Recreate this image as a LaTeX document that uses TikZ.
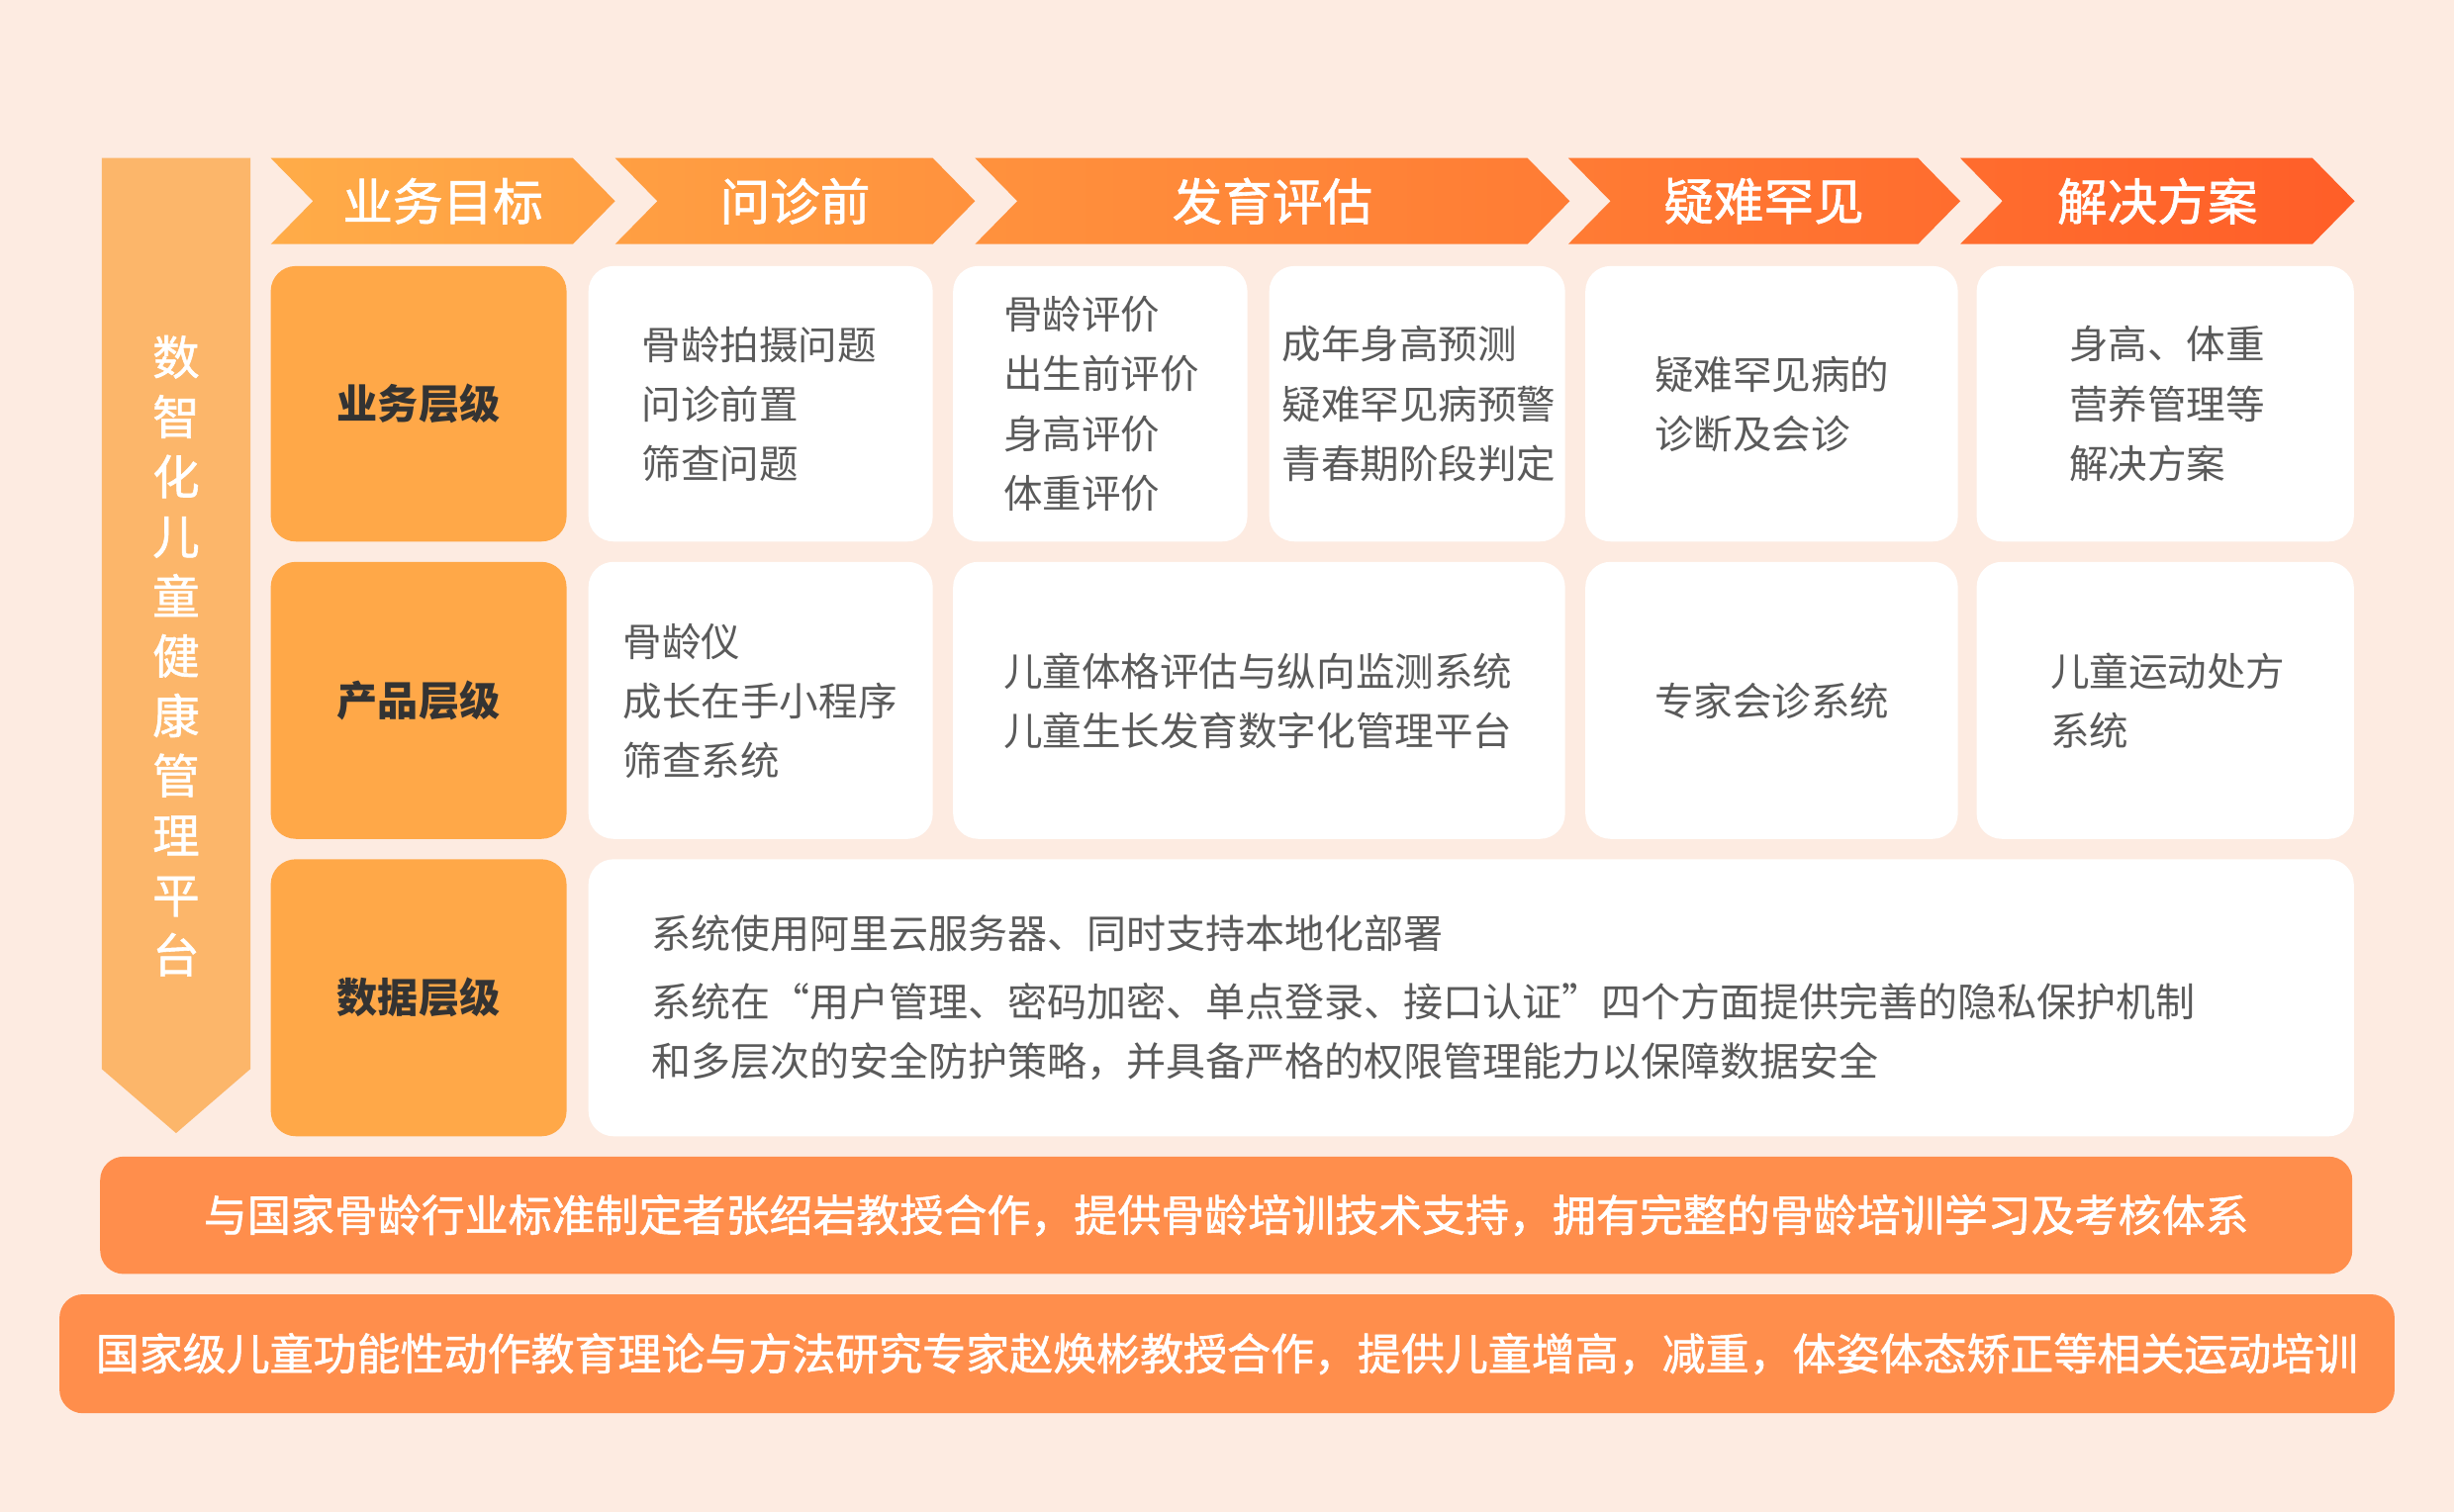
\documentclass[tikz,border=0pt]{standalone}
\usepackage{fontspec}
\setmainfont{Noto Sans CJK SC}
\newfontfamily\medfont{Noto Sans CJK SC}[FakeBold=1.2]
\definecolor{bgc}{RGB}{253,235,225}
\definecolor{bandc}{RGB}{252,182,106}
\definecolor{labelc}{RGB}{255,168,72}
\definecolor{barc}{RGB}{255,142,76}
\definecolor{chevL}{RGB}{255,172,72}
\definecolor{chevR}{RGB}{255,94,40}
\definecolor{bodyc}{RGB}{90,90,90}
\definecolor{labtc}{RGB}{51,51,51}
\begin{document}
\begin{tikzpicture}[x=1pt,y=-1pt,
  lblbox/.style={fill=labelc, rounded corners=16pt, inner sep=0pt, minimum width=189pt, text=labtc, font=\fontsize{26}{30}\selectfont\bfseries},
  whitebox/.style={fill=white, rounded corners=16pt, inner sep=0pt},
  bodytxt/.style={anchor=west, inner sep=0pt, align=left, text=bodyc, font=\fontsize{25}{38}\selectfont},
  headtxt/.style={inner sep=0pt, text=white, font=\medfont\fontsize{32}{36}\selectfont},
  barbox/.style={fill=barc, rounded corners=15pt, inner sep=0pt, text=white, font=\medfont\fontsize{27.8}{30}\selectfont}
]
\fill[bgc] (0,0) rectangle (1568,966);
\useasboundingbox (0,0) rectangle (1568,966);

% left vertical band
\fill[bandc] (65,101) -- (160,101) -- (160,683) -- (112.5,724) -- (65,683) -- cycle;
\node[inner sep=0pt, align=center, text=white, font=\medfont\fontsize{30}{38.2}\selectfont] (band) at (112.5,419)
  {数\\智\\化\\儿\\童\\健\\康\\管\\理\\平\\台};

% header chevrons (one shaded path)
\shade[left color=chevL, right color=chevR]
  (173,101) -- (366,101) -- (393,128.5) -- (366,156) -- (173,156) -- (200,128.5) -- cycle
  (393,101) -- (596,101) -- (623,128.5) -- (596,156) -- (393,156) -- (420,128.5) -- cycle
  (623,101) -- (976,101) -- (1003,128.5) -- (976,156) -- (623,156) -- (650,128.5) -- cycle
  (1002,101) -- (1225.5,101) -- (1252.5,128.5) -- (1225.5,156) -- (1002,156) -- (1029,128.5) -- cycle
  (1252.5,101) -- (1477.5,101) -- (1504.5,128.5) -- (1477.5,156) -- (1252.5,156) -- (1279.5,128.5) -- cycle;
\node[headtxt] (h1) at (283,128.5) {业务目标};
\node[headtxt] (h2) at (508,128.5) {问诊前};
\node[headtxt] (h3) at (813,128.5) {发育评估};
\node[headtxt] (h4) at (1127,128.5) {疑难罕见};
\node[headtxt] (h5) at (1378.5,128.5) {解决方案};

% row 1
\node[lblbox, minimum height=176pt] (L1) at (267.5,258) {业务层级};
\node[whitebox, minimum width=220pt, minimum height=176pt] (b11) at (486,258) {};
\node[whitebox, minimum width=188pt, minimum height=176pt] (b12) at (703,258) {};
\node[whitebox, minimum width=189pt, minimum height=176pt] (b13) at (905.5,258) {};
\node[whitebox, minimum width=238pt, minimum height=176pt] (b14) at (1132,258) {};
\node[whitebox, minimum width=241pt, minimum height=176pt] (b15) at (1383.5,258) {};
\node[bodytxt] (t11) at (410,258) {骨龄拍摄问题\\问诊前置\\筛查问题};
\node[bodytxt] (t12) at (641,258) {骨龄评价\\出生前评价\\身高评价\\体重评价};
\node[bodytxt] (t13) at (819,258) {成年身高预测\\疑难罕见病预警\\青春期阶段判定};
\node[bodytxt] (t14) at (1057,258) {疑难罕见病的\\诊断及会诊};
\node[bodytxt] (t15) at (1322,258) {身高、体重\\营养管理等\\解决方案};

% row 2
\node[lblbox, minimum height=177pt] (L2) at (267.5,447.5) {产品层级};
\node[whitebox, minimum width=220pt, minimum height=177pt] (b21) at (486,447.5) {};
\node[whitebox, minimum width=391pt, minimum height=177pt] (b22) at (804.5,447.5) {};
\node[whitebox, minimum width=238pt, minimum height=177pt] (b23) at (1132,447.5) {};
\node[whitebox, minimum width=241pt, minimum height=177pt] (b24) at (1383.5,447.5) {};
\node[bodytxt] (t21) at (398,448) {骨龄仪\\成长在手小程序\\筛查系统};
\node[bodytxt] (t22) at (641,448) {儿童体格评估与纵向监测系统\\儿童生长发育数字化管理平台};
\node[bodytxt] (t23) at (1057,448) {专家会诊系统};
\node[bodytxt] (t24) at (1310,448) {儿童运动处方\\系统};

% row 3
\node[lblbox, minimum height=177pt] (L3) at (267.5,637.5) {数据层级};
\node[whitebox, minimum width=1128pt, minimum height=177pt] (b31) at (940,637.5) {};
\node[bodytxt, font=\fontsize{25.3}{38}\selectfont] (t31) at (416,637.5) {系统使用阿里云服务器、同时支持本地化部署\\[5pt]系统在“用户管理、密码加密、单点登录、接口认证”四个方面提供完善的隐私保护机制\\和多层次的安全防护策略，并具备严格的权限管理能力以保障数据安全};

% bottom bars
\node[barbox, minimum width=1439pt, minimum height=75pt] (bar1) at (783.5,776.5)
  {与国家骨龄行业标准制定者张绍岩教授合作，提供骨龄培训技术支持，拥有完整的骨龄培训学习及考核体系};
\node[barbox, minimum width=1492pt, minimum height=76pt] (bar2) at (784,865)
  {国家级儿童功能性动作教育理论与方法研究专家赵焕彬教授合作，提供儿童增高，减重，体姿体态矫正等相关运动培训};
\end{tikzpicture}
\end{document}
